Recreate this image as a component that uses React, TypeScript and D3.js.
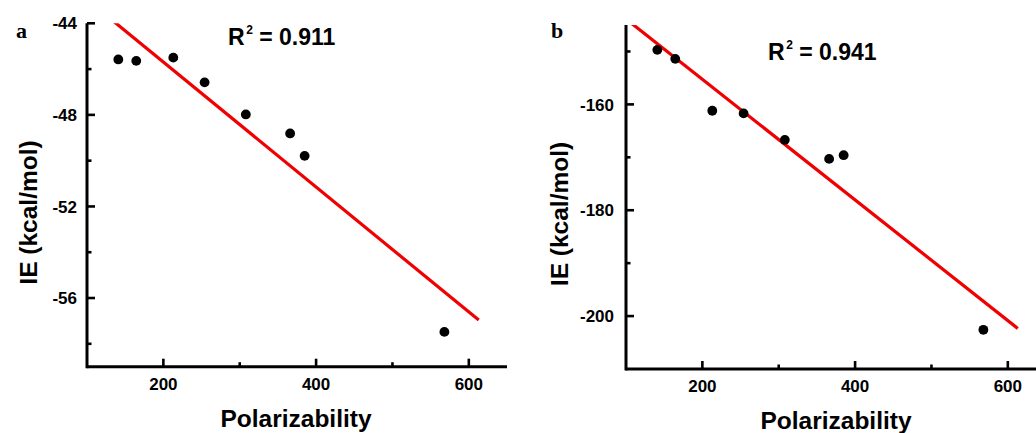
import React from "react";
import * as d3 from "d3";

const polarizability = [141, 164.5, 213, 254, 308, 366, 385, 568];
const ieA = [-45.58, -45.64, -45.5, -46.58, -47.98, -48.81, -49.79, -57.48];
const ieB = [-149.7, -151.4, -161.2, -161.7, -166.7, -170.3, -169.6, -202.6];
const xMajor = [200, 400, 600];
const xMinor = [300, 500];
const yMajorA = [-44, -48, -52, -56];
const yMinorA = [-46, -50, -54, -58];
const yMajorB = [-160, -180, -200];
const yMinorB = [-150, -170, -190];
const fitRange = [100, 613];

type PanelProps = {
  id: string;
  letter: string;
  r2: string;
  ys: number[];
  xDomain: [number, number];
  yDomain: [number, number];
  x0: number; x1: number; y0: number; y1: number;
  yMajor: number[]; yMinor: number[];
  letterX: number; letterY: number;
  r2X: number; r2Y: number;
  yTitleX: number; yTitleY: number;
  xTitleX: number; xTitleY: number;
  yLabelGap: number;
};

function linreg(xs: number[], ys: number[]) {
  const mx = d3.mean(xs)!;
  const my = d3.mean(ys)!;
  let sxy = 0, sxx = 0;
  xs.forEach((x, i) => { sxy += (x - mx) * (ys[i] - my); sxx += (x - mx) * (x - mx); });
  const b = sxy / sxx;
  return { b, a: my - b * mx };
}

const sans = "'Liberation Sans', Arial, sans-serif";

function Panel(p: PanelProps) {
  const x = d3.scaleLinear().domain(p.xDomain).range([p.x0, p.x1]);
  const y = d3.scaleLinear().domain(p.yDomain).range([p.y0, p.y1]);
  const fit = linreg(polarizability, p.ys);
  const line = d3.line<number>().x((d) => x(d)).y((d) => y(fit.a + fit.b * d));
  return (
    <g>
      <defs>
        <clipPath id={"clip" + p.id}>
          <rect x={p.x0} y={p.y1} width={p.x1 - p.x0} height={p.y0 - p.y1} />
        </clipPath>
      </defs>
      <text x={p.letterX} y={p.letterY} fontFamily="'Liberation Serif', 'Times New Roman', serif" fontWeight="bold" fontSize={22}>{p.letter}</text>
      <path d={line(fitRange) || ""} stroke="#f00000" strokeWidth={3.2} fill="none" clipPath={`url(#clip${p.id})`} />
      {polarizability.map((xv, i) => (
        <circle key={i} cx={x(xv)} cy={y(p.ys[i])} r={4.9} fill="#000" />
      ))}
      <line x1={p.x0} x2={p.x1} y1={p.y0} y2={p.y0} stroke="#000" strokeWidth={3} />
      <line x1={p.x0} x2={p.x0} y1={p.y0 + 1.5} y2={p.y1} stroke="#000" strokeWidth={3} />
      {xMajor.map((t) => (
        <g key={"xm" + t}>
          <line x1={x(t)} x2={x(t)} y1={p.y0} y2={p.y0 - 8} stroke="#000" strokeWidth={2.6} />
          <text x={x(t)} y={p.y0 + 23} textAnchor="middle" fontFamily={sans} fontWeight="bold" fontSize={17}>{t}</text>
        </g>
      ))}
      {xMinor.map((t) => (
        <line key={"xn" + t} x1={x(t)} x2={x(t)} y1={p.y0} y2={p.y0 - 4.5} stroke="#000" strokeWidth={2.6} />
      ))}
      {p.yMajor.map((t) => (
        <g key={"ym" + t}>
          <line x1={p.x0} x2={p.x0 + 8} y1={y(t)} y2={y(t)} stroke="#000" strokeWidth={2.6} />
          <text x={p.x0 - p.yLabelGap} y={y(t)} dy="0.36em" textAnchor="end" fontFamily={sans} fontWeight="bold" fontSize={17}>{t}</text>
        </g>
      ))}
      {p.yMinor.map((t) => (
        <line key={"yn" + t} x1={p.x0} x2={p.x0 + 4.5} y1={y(t)} y2={y(t)} stroke="#000" strokeWidth={2.6} />
      ))}
      <text x={p.r2X} y={p.r2Y} fontFamily={sans} fontWeight="bold" fontSize={23}>
        R<tspan fontSize={12} dy={-11.5} dx={1.5}>2</tspan><tspan dy={11.5}>{" = " + p.r2}</tspan>
      </text>
      <text transform={`translate(${p.yTitleX},${p.yTitleY}) rotate(-90)`} textAnchor="middle" fontFamily={sans} fontWeight="bold" fontSize={24.5}>IE (kcal/mol)</text>
      <text x={p.xTitleX} y={p.xTitleY} textAnchor="middle" fontFamily={sans} fontWeight="bold" fontSize={24.5}>Polarizability</text>
    </g>
  );
}

export default function App() {
  return (
    <svg width={1036} height={433} style={{ position: "absolute", left: 0, top: 0, background: "#fff" }}>
      <rect x={0} y={0} width={1036} height={433} fill="#fff" />
      <Panel id="a" letter="a" r2="0.911" ys={ieA} xDomain={[100, 650]} yDomain={[-59, -44]}
        x0={87} x1={507} y0={366.7} y1={23.3} yMajor={yMajorA} yMinor={yMinorA}
        letterX={16} letterY={38} r2X={228} r2Y={45} yTitleX={36.5} yTitleY={212.5}
        xTitleX={296} xTitleY={427} yLabelGap={10} />
      <Panel id="b" letter="b" r2="0.941" ys={ieB} xDomain={[100, 650]} yDomain={[-210, -145]}
        x0={626} x1={1046} y0={369} y1={25} yMajor={yMajorB} yMinor={yMinorB}
        letterX={551} letterY={38} r2X={768} r2Y={60} yTitleX={568} yTitleY={214}
        xTitleX={836} xTitleY={429} yLabelGap={12} />
    </svg>
  );
}
